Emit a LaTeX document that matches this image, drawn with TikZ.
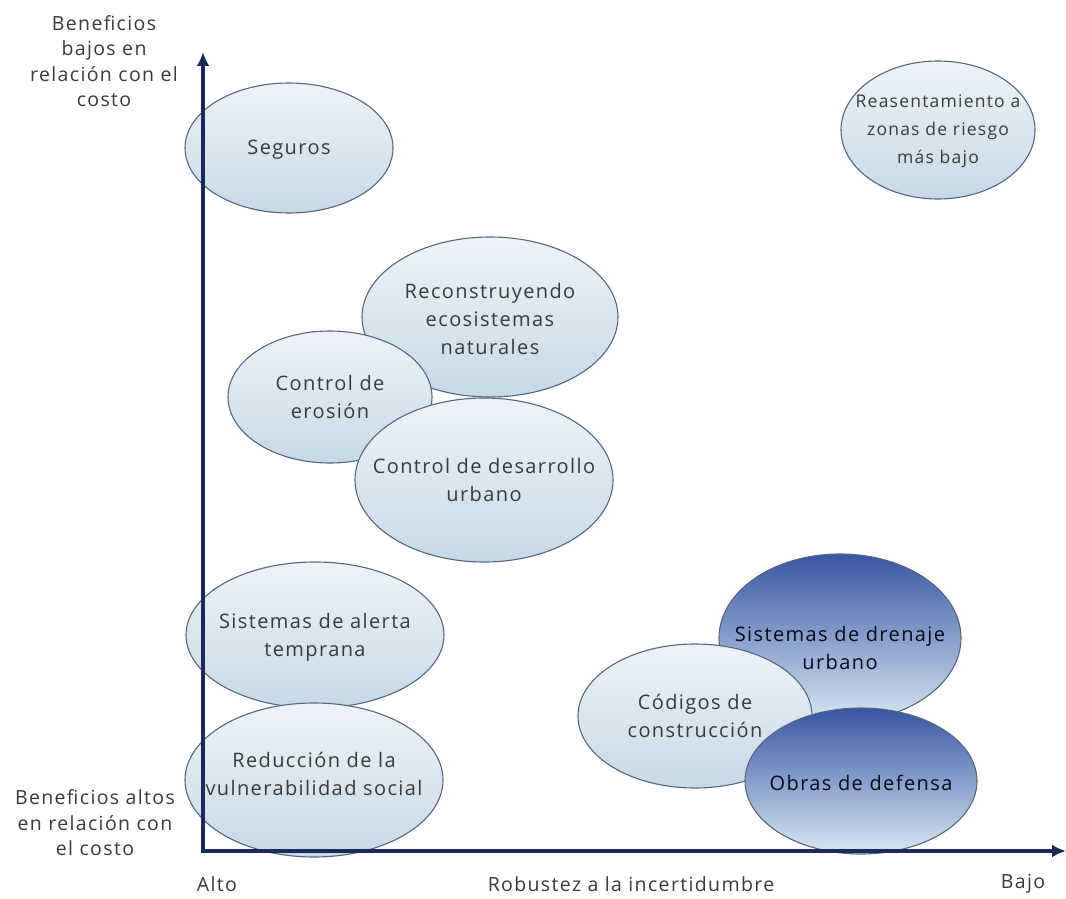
\documentclass[tikz,border=0pt]{standalone}
\usepackage{fontspec}
\setmainfont{Open Sans}
\newfontfamily\bubfont[LetterSpace=7]{Open Sans}
\usetikzlibrary{shapes.geometric,arrows.meta}
\definecolor{axiscol}{HTML}{1B2A5C}
\definecolor{txtcol}{HTML}{3A3A3A}
\definecolor{edgecol}{HTML}{56667E}
\definecolor{lighttop}{HTML}{EEF3F8}
\definecolor{lightbot}{HTML}{C6D9E7}
\definecolor{darktop}{HTML}{3756A4}
\definecolor{darkbot}{HTML}{D8E8F2}
\tikzset{
  bub/.style={ellipse, draw=edgecol, line width=1.1pt, inner sep=0pt},
  lightbub/.style={bub, top color=lighttop, bottom color=lightbot},
  darkbub/.style={bub, top color=darktop, bottom color=darkbot, middle color=darktop!50!darkbot},
  bubtxt/.style={align=center, inner sep=0pt, text=txtcol, font=\bubfont\fontsize{20}{28}\selectfont},
  smalltxt/.style={bubtxt, font=\bubfont\fontsize{17.5}{28}\selectfont},
  darktxt/.style={bubtxt, text=black!75!axiscol},
  axisline/.style={draw=axiscol, line width=3.2pt, -{Latex[length=14pt,width=13pt]}},
  lab/.style={text=txtcol, align=center, inner sep=0pt, font=\bubfont\fontsize{19.5}{25.5}\selectfont}
}
\begin{document}
\begin{tikzpicture}[x=1pt,y=-1pt]
\useasboundingbox (0,0) rectangle (1066,899);
\fill[white] (0,0) rectangle (1066,899);
% bubbles
\node[lightbub, minimum width=208pt, minimum height=130pt] (seg) at (289,148) {};
\node[bubtxt] (segt) at ([yshift=-2pt]seg.center) {Seguros};
\node[lightbub, minimum width=194pt, minimum height=138pt] (rea) at (938,130) {};
\node[smalltxt] (reat) at ([yshift=-1pt]rea.center) {Reasentamiento a\\zonas de riesgo\\más bajo};
\node[lightbub, minimum width=256pt, minimum height=160pt] (rec) at (490,317) {};
\node[bubtxt] (rect) at ([yshift=-2pt]rec.center) {Reconstruyendo\\ecosistemas\\naturales};
\node[lightbub, minimum width=204pt, minimum height=132pt] (ero) at (330,397) {};
\node[bubtxt] (erot) at (ero.center) {Control de\\erosión};
\node[lightbub, minimum width=258pt, minimum height=164pt] (urb) at (484,480) {};
\node[bubtxt] (urbt) at (urb.center) {Control de desarrollo\\urbano};
\node[lightbub, minimum width=258pt, minimum height=146pt] (ale) at (315,635) {};
\node[bubtxt] (alet) at ([yshift=-2pt]ale.center) {Sistemas de alerta\\temprana};
\node[lightbub, minimum width=258pt, minimum height=154pt] (red) at (314,780) {};
\node[bubtxt] (redt) at ([yshift=6pt]red.center) {Reducción de la\\vulnerabilidad social};
\node[darkbub, minimum width=242pt, minimum height=168pt] (dre) at (840,638) {};
\node[darktxt] (dret) at ([yshift=-10pt]dre.center) {Sistemas de drenaje\\urbano};
\node[lightbub, minimum width=234pt, minimum height=144pt] (cod) at (695,716) {};
\node[bubtxt] (codt) at (cod.center) {Códigos de\\construcción};
\node[darkbub, minimum width=232pt, minimum height=146pt] (obr) at (861,781) {};
\node[darktxt] (obrt) at ([yshift=-2pt]obr.center) {Obras de defensa};
% axes
\coordinate (O) at (203,851);
\coordinate (ytop) at (203,52);
\coordinate (xend) at (1066,851);
\draw[axisline] (O) -- (ytop);
\draw[axisline] ([xshift=-1.6pt]O) -- (xend);
% labels
\node[lab] (ylo) at (104,61) {Beneficios\\bajos en\\relación con el\\costo};
\node[lab] (yhi) at (95,823) {Beneficios altos\\en relación con\\el costo};
\node[lab] (alto) at (217,884) {Alto};
\node[lab] (rob) at (631,884) {Robustez a la incertidumbre};
\node[lab] (bajo) at (1023,884) {Bajo};
\end{tikzpicture}
\end{document}
